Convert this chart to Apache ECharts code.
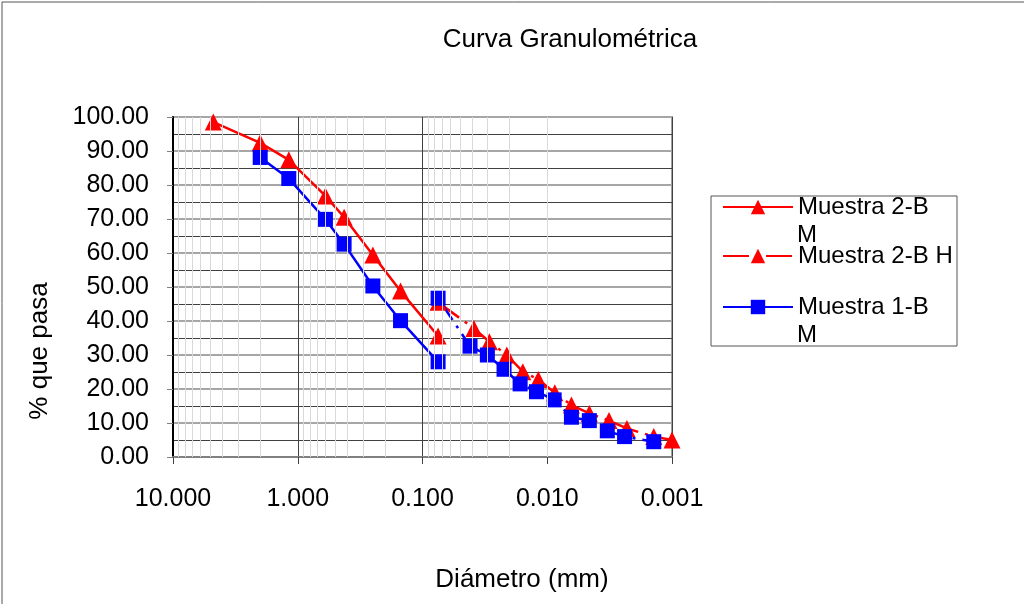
<!DOCTYPE html>
<html>
<head>
<meta charset="utf-8">
<script src="https://cdn.jsdelivr.net/npm/echarts@6/dist/echarts.min.js"></script>
<style>
  html, body { margin: 0; padding: 0; background: #fff; }
  #chart { width: 1024px; height: 604px; }
</style>
</head>
<body>
<div id="chart"></div>
<script>
// diametros (mm) y % que pasa de cada curva
const m2bM_size = [4.75, 2.0, 1.18, 0.6, 0.425, 0.25, 0.15, 0.075]
const m2bM_pass = [98.5, 92.4, 87.4, 76.8, 70.5, 59.4, 48.8, 35.6]

const m2bH_size = [0.075, 0.0387, 0.0291, 0.0211, 0.0157, 0.0118, 0.0087, 0.0064, 0.0046, 0.0032, 0.0023, 0.0014, 0.001]
const m2bH_pass = [45.5, 37.8, 33.9, 30.0, 25.1, 22.8, 18.9, 15.3, 12.8, 10.7, 8.4, 6.0, 5.0]

const m1bM_size = [2.0, 1.18, 0.6, 0.425, 0.25, 0.15, 0.075]
const m1bM_pass = [88.1, 81.9, 69.9, 62.6, 50.3, 40.1, 28.0]

const m1bH_size = [0.075, 0.0416, 0.0302, 0.0222, 0.0165, 0.0122, 0.0088, 0.0064, 0.0046, 0.0033, 0.0024, 0.0014]
const m1bH_pass = [46.7, 32.6, 30.0, 25.8, 21.5, 19.2, 16.8, 11.7, 10.7, 7.7, 6.0, 4.5]

const FONT = '"Liberation Sans", Arial, sans-serif'
const RED = '#ff0000'
const BLUE = '#0000ff'
const dashDot = [26, 7, 3, 7]

function pairs (xs, ys) {
  return xs.map((x, i) => [x, ys[i]])
}

// lineas menores del eje log (2..9 de cada decada)
function minorLines () {
  let out = []
  ;[0.001, 0.01, 0.1, 1].forEach((d) => {
    for (let k = 2; k <= 9; k++) out.push({ xAxis: +(d * k).toFixed(4) })
  })
  return out
}

const chart = echarts.init(document.getElementById('chart'), null, { renderer: 'canvas' })

chart.setOption({
  animation: false,
  backgroundColor: '#fff',
  textStyle: { fontFamily: FONT },
  title: {
    text: 'Curva Granulométrica',
    left: 565,
    top: 22,
    textAlign: 'center',
    textStyle: { fontFamily: FONT, fontSize: 26, fontWeight: 'normal', color: '#000' }
  },
  grid: {
    left: 173,
    top: 117,
    width: 499,
    height: 340,
    show: true,
    borderColor: '#a0a0a0',
    borderWidth: 2,
    backgroundColor: 'transparent'
  },
  xAxis: {
    type: 'log',
    logBase: 10,
    min: 0.001,
    max: 10,
    inverse: true,
    axisLine: { lineStyle: { color: '#808080', width: 2 } },
    axisTick: { show: true, length: 7, lineStyle: { color: '#404040' } },
    axisLabel: {
      margin: 30,
      fontSize: 25,
      color: '#000',
      fontFamily: FONT,
      formatter: (v) => Number(v).toFixed(3)
    },
    splitLine: { show: true, lineStyle: { color: '#404040', width: 1 } }
  },
  yAxis: {
    type: 'value',
    min: 0,
    max: 100,
    interval: 10,
    axisLine: { show: true, lineStyle: { color: '#000', width: 2 } },
    axisTick: { show: true, length: 6, lineStyle: { color: '#808080' } },
    axisLabel: {
      margin: 24,
      fontSize: 25,
      color: '#000',
      fontFamily: FONT,
      formatter: (v) => v.toFixed(2)
    },
    splitLine: { show: true, lineStyle: { color: '#a6a6a6', width: 2 } },
    minorTick: { show: false, splitNumber: 2 },
    minorSplitLine: { show: true, lineStyle: { color: '#404040', width: 1 } }
  },
  legend: [
    { name: 'Muestra 2-B M', top: 195 },
    { name: 'Muestra 2-B H', top: 244 },
    { name: 'Muestra 1-B M', top: 295 }
  ].map((l) => ({
    data: [l.name],
    left: 722,
    top: l.top,
    itemWidth: 70,
    itemHeight: 18,
    itemGap: 0,
    padding: 0,
    selectedMode: false,
    formatter: (n) => n.replace(/ M$/, ''),
    textStyle: { fontFamily: FONT, fontSize: 24, color: '#000', padding: [0, 0, 0, 0] }
  })),
  graphic: [
    {
      type: 'rect',
      shape: { x: 2, y: 2, width: 1040, height: 640 },
      style: { fill: 'none', stroke: '#555', lineWidth: 1 },
      silent: true
    },
    {
      type: 'rect',
      shape: { x: 711, y: 196, width: 246, height: 150 },
      style: { fill: 'none', stroke: '#555', lineWidth: 1 },
      silent: true
    },
    {
      type: 'text',
      left: 797,
      top: 223,
      style: { text: 'M', font: '24px ' + FONT, fill: '#000' }
    },
    {
      type: 'text',
      left: 797,
      top: 323,
      style: { text: 'M', font: '24px ' + FONT, fill: '#000' }
    },
    {
      type: 'text',
      x: 40,
      y: 351,
      rotation: Math.PI / 2,
      style: { text: '% que pasa', font: '26px ' + FONT, fill: '#000', align: 'center', verticalAlign: 'middle' }
    },
    {
      type: 'text',
      x: 522,
      y: 580,
      style: { text: 'Diámetro (mm)', font: '26px ' + FONT, fill: '#000', align: 'center', verticalAlign: 'middle' }
    }
  ],
  series: [
    {
      type: 'line',
      z: 1,
      data: [],
      silent: true,
      markLine: {
        silent: true,
        symbol: 'none',
        label: { show: false },
        lineStyle: { color: '#d9d9d9', width: 1, type: 'solid' },
        data: minorLines()
      }
    },
    {
      name: 'Muestra 2-B M',
      type: 'line',
      clip: false,
      data: pairs(m2bM_size, m2bM_pass),
      symbol: 'triangle',
      symbolSize: 17,
      itemStyle: { color: RED },
      lineStyle: { color: RED, width: 2.5 }
    },
    {
      name: 'Muestra 2-B H',
      type: 'line',
      clip: false,
      data: pairs(m2bH_size, m2bH_pass),
      symbol: 'triangle',
      symbolSize: 17,
      itemStyle: { color: RED },
      lineStyle: { color: RED, width: 2.5, type: dashDot }
    },
    {
      name: 'Muestra 1-B M',
      type: 'line',
      clip: false,
      data: pairs(m1bM_size, m1bM_pass),
      symbol: 'rect',
      symbolSize: 15,
      itemStyle: { color: BLUE },
      lineStyle: { color: BLUE, width: 2.5 }
    },
    {
      name: 'Muestra 1-B H',
      type: 'line',
      clip: false,
      data: pairs(m1bH_size, m1bH_pass),
      symbol: 'rect',
      symbolSize: 15,
      itemStyle: { color: BLUE },
      lineStyle: { color: BLUE, width: 2.5, type: dashDot }
    }
  ]
})
</script>
</body>
</html>
